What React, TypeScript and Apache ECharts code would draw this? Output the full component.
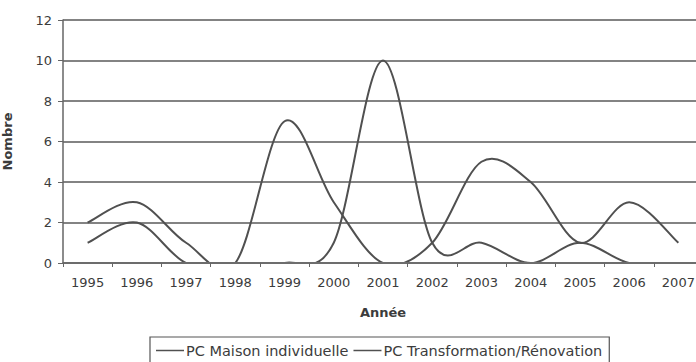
import React, { useEffect, useRef } from "react";
import * as echarts from "echarts";

const years = ["1995", "1996", "1997", "1998", "1999", "2000", "2001", "2002", "2003", "2004", "2005", "2006", "2007"];
const maisonIndividuelle = [2, 3, 1, 0, 7, 3, 0, 1, 5, 4, 1, 3, 1];
const transformationRenovation = [1, 2, 0, 0, 0, 1, 10, 1, 1, 0, 1, 0, 0];
const seriesNames = ["PC Maison individuelle", "PC Transformation/Rénovation"];

const FONT = "DejaVu Sans";
const INK = "#3c3c3c";
const LINE = "#505050";

// Catmull-Rom style smoothed curve through the points, projected with the axes.
function smoothCurve(values: number[]) {
  return (params: any, api: any) => {
    if (params.dataIndex !== 0) return { type: "group", children: [] };
    const pts = values.map((v, i) => api.coord([i, v]) as number[]);
    const n = pts.length;
    let d = `M${pts[0][0]},${pts[0][1]}`;
    for (let i = 0; i < n - 1; i++) {
      const p0 = pts[Math.max(i - 1, 0)];
      const p1 = pts[i];
      const p2 = pts[i + 1];
      const p3 = pts[Math.min(i + 2, n - 1)];
      const c1x = p1[0] + (p2[0] - p0[0]) / 6;
      const c1y = p1[1] + (p2[1] - p0[1]) / 6;
      const c2x = p2[0] - (p3[0] - p1[0]) / 6;
      const c2y = p2[1] - (p3[1] - p1[1]) / 6;
      d += ` C${c1x},${c1y} ${c2x},${c2y} ${p2[0]},${p2[1]}`;
    }
    const cs = params.coordSys;
    return {
      type: "group",
      clipPath: { type: "rect", shape: { x: cs.x, y: cs.y - 2, width: cs.width, height: cs.height + 1 } },
      children: [
        {
          type: "path",
          shape: { pathData: d },
          style: { stroke: LINE, lineWidth: 2, fill: "none" },
        },
      ],
    };
  };
}

export default function App() {
  const ref = useRef<HTMLDivElement>(null);

  useEffect(() => {
    document.body.style.margin = "0";
    if (!ref.current) return;
    const chart = echarts.init(ref.current, null, { renderer: "svg" });
    chart.setOption({
      animation: false,
      backgroundColor: "#ffffff",
      textStyle: { fontFamily: FONT, color: INK },
      grid: { left: 63, right: -7, top: 20, bottom: 99, containLabel: false, outerBoundsMode: "none" },
      legend: {
        left: 150,
        top: 337,
        orient: "horizontal",
        icon: "rect",
        itemWidth: 28,
        itemHeight: 1.5,
        itemGap: 5,
        padding: [6, 7, 8, 6],
        borderColor: "#555",
        borderWidth: 1.2,
        textStyle: { fontFamily: FONT, fontSize: 14.5, color: INK, padding: [0, 0, 0, -3] },
        data: seriesNames,
      },
      xAxis: {
        type: "category",
        data: years,
        boundaryGap: true,
        name: "Année",
        nameLocation: "middle",
        nameGap: 43,
        nameTextStyle: { fontFamily: FONT, fontSize: 13, fontWeight: "bold", color: INK },
        axisLine: { lineStyle: { color: "#666", width: 1.5 } },
        axisTick: { show: true, length: 4, inside: false, lineStyle: { color: "#666" } },
        axisLabel: { fontFamily: FONT, fontSize: 13, color: INK, margin: 13 },
        splitLine: { show: false },
      },
      yAxis: {
        type: "value",
        min: 0,
        max: 12,
        interval: 2,
        name: "Nombre",
        nameLocation: "middle",
        nameGap: 49,
        nameRotate: 90,
        nameTextStyle: { fontFamily: FONT, fontSize: 13, fontWeight: "bold", color: INK },
        axisLine: { show: true, lineStyle: { color: "#666", width: 1.5 } },
        axisTick: { show: true, length: 5, lineStyle: { color: "#666" } },
        axisLabel: { fontFamily: FONT, fontSize: 13, color: INK, margin: 11 },
        splitLine: { show: true, lineStyle: { color: "#5a5a5a", width: 1.5 } },
      },
      series: [
        {
          name: seriesNames[0],
          type: "custom",
          renderItem: smoothCurve(maisonIndividuelle),
          data: maisonIndividuelle.map((v, i) => [i, v]),
          itemStyle: { color: LINE },
        },
        {
          name: seriesNames[1],
          type: "custom",
          renderItem: smoothCurve(transformationRenovation),
          data: transformationRenovation.map((v, i) => [i, v]),
          itemStyle: { color: LINE },
        },
      ],
    });
    return () => chart.dispose();
  }, []);

  return <div ref={ref} style={{ width: 696, height: 362 }} />;
}
